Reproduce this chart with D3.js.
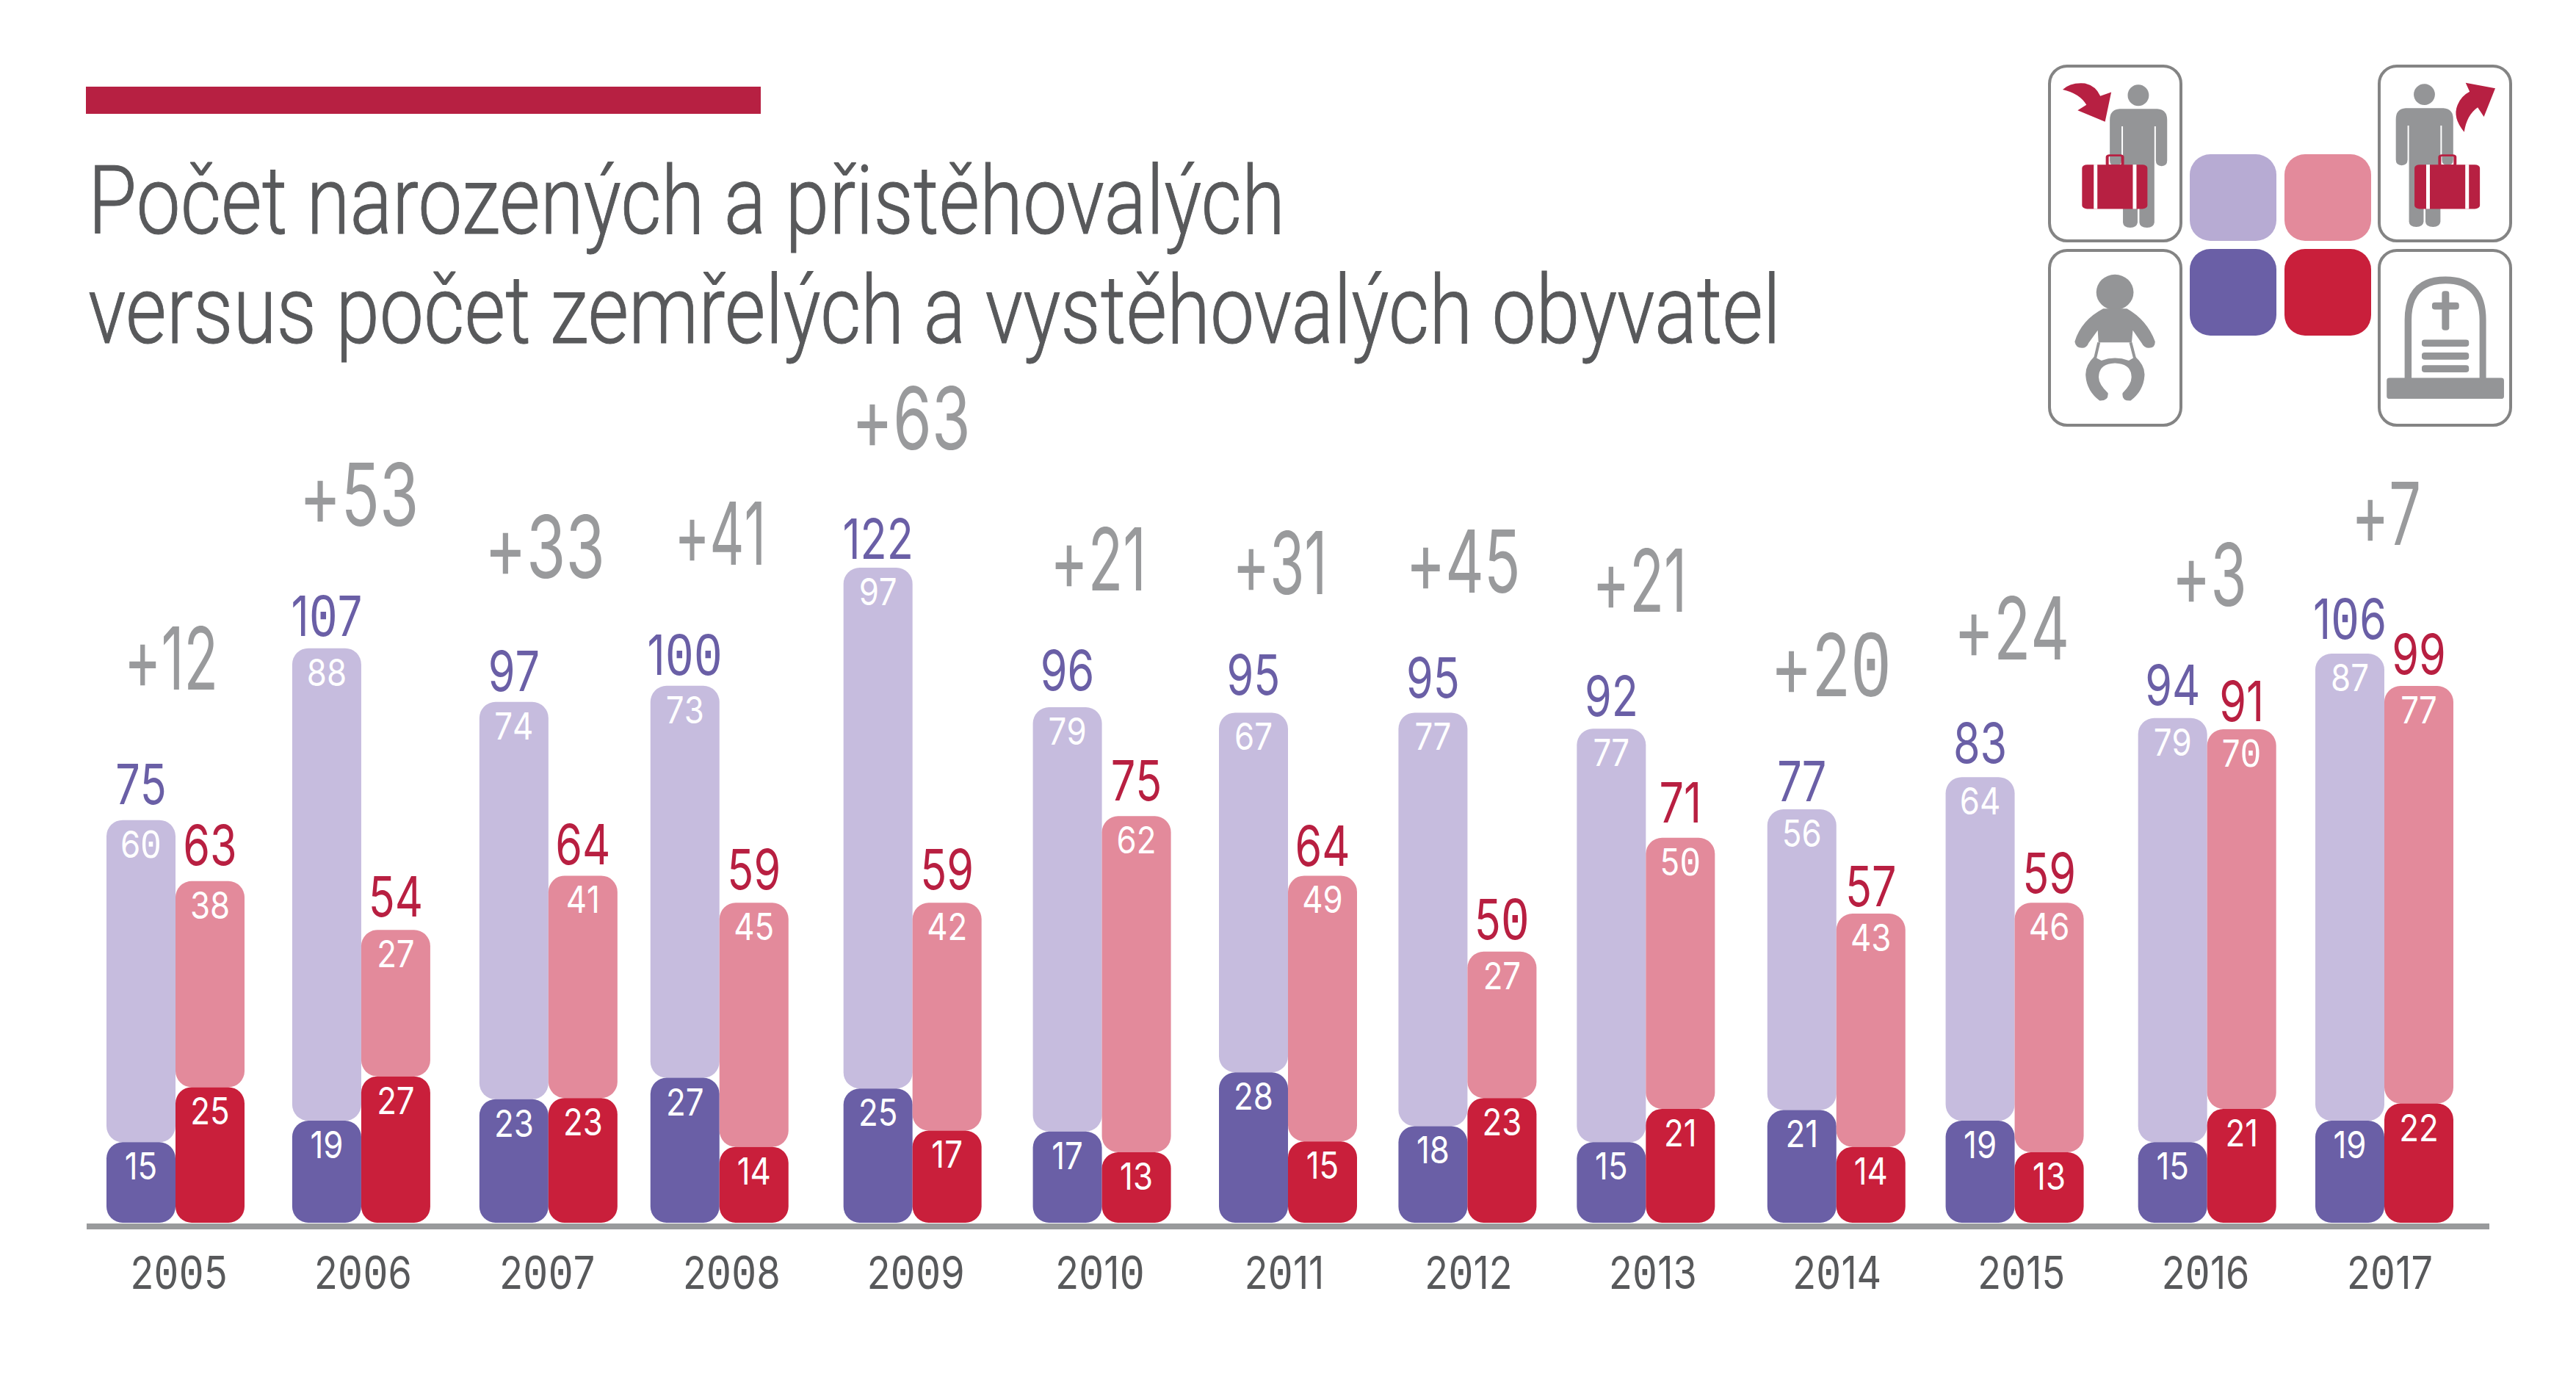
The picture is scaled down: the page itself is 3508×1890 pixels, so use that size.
<!DOCTYPE html>
<html>
<head>
<meta charset="utf-8">
<script src="https://cdn.jsdelivr.net/npm/d3@7"></script>
<style>
html,body{margin:0;padding:0;background:#fff;}
svg{display:block;}
</style>
</head>
<body>
<div id="chart"></div>
<script>
var years = [2005,2006,2007,2008,2009,2010,2011,2012,2013,2014,2015,2016,2017];
var births = [15,19,23,27,25,17,28,18,15,21,19,15,19];
var immigrants = [60,88,74,73,97,79,67,77,77,56,64,79,87];
var deaths = [25,27,23,14,17,13,15,23,21,14,13,21,22];
var emigrants = [38,27,41,45,42,62,49,27,50,43,46,70,77];
var growth = [12,53,33,41,63,21,31,45,21,20,24,3,7];
var title = ['Počet narozených a přistěhovalých','versus počet zemřelých a vystěhovalých obyvatel'];

var width = 3508, height = 1890, baseY = 1665, barW = 94;

// hand placement in the original: pairs sit a little off the year labels,
// the figures above the bars float at uneven gaps
var nudge = [-4,-2,2,-16,-4,3,5.5,-1,-9,-0.5,-8.6,2.6,-7];
var growthDx = [-6,-3,-5,1,-2,-5,-11,-6,-8.5,-7,-4,3,2.5];
var growthLift = [178,167,169,164.5,161,159,161.5,163,159.5,154,160,153,148];
var growthW = [128,163,163,123,162,128,128,156,126,162,153,101,93];
var blueGap = [22,17,15,15,12,23,24,20,17,11,19,18,20];
var redGap = [22,18,15,18,18,21,13,17,21,10,13,11,16];

var svg = d3.select('#chart').append('svg')
  .attr('width', width).attr('height', height);

var x = d3.scalePoint().domain(years).range([243,3254]);
var yBlue = d3.scaleLinear().domain([0,122]).range([baseY,baseY-892]);
var yRed = d3.scaleLinear().domain([0,99]).range([baseY,baseY-731]);

var rows = years.map(function(yr,i){
  return {yr:yr, i:i, cx:x(yr)+nudge[i], b:births[i], im:immigrants[i], d:deaths[i], em:emigrants[i], g:growth[i]};
});

// Inter for the proportional digits, zeros from Liberation Mono for the dotted zero
function digits(t, s, size){
  t.attr('font-family','Inter').attr('font-size',size).attr('font-weight',400);
  t.selectAll('tspan').data(s.split('')).enter().append('tspan')
    .attr('font-family',function(c){ return c==='0' ? '"Liberation Mono"' : null; })
    .attr('font-size',function(c){ return c==='0' ? size*1.1 : null; })
    .text(function(c){ return c; });
}

function label(g, txt, px, py, size, sx, fill){
  var t = g.append('text')
    .attr('transform','translate('+px+','+py+') scale('+sx+',1)')
    .attr('text-anchor','middle').attr('fill',fill);
  digits(t,String(txt),size);
  return t;
}

function bar(g, px, yy, lo, hi, fill){
  g.append('rect').attr('x',px).attr('width',barW)
    .attr('y',yy(hi)).attr('height',yy(lo)-yy(hi))
    .attr('rx',22).attr('ry',22).attr('fill',fill);
}

// top rule and title
svg.append('rect').attr('x',117).attr('y',118).attr('width',919).attr('height',37).attr('fill','#b72042');
svg.selectAll('text.title').data(title).enter().append('text')
  .attr('class','title')
  .attr('x',120).attr('y',function(d,i){ return i ? 467 : 318; })
  .attr('font-family','Roboto').attr('font-weight',300).attr('font-size',130)
  .attr('textLength',function(d,i){ return i ? 2305 : 1630; })
  .attr('lengthAdjust','spacingAndGlyphs')
  .attr('stroke','#58595b').attr('stroke-width',1)
  .attr('fill','#58595b').text(function(d){ return d; });

// bars
var groups = svg.selectAll('g.year').data(rows).enter().append('g').attr('class','year');
groups.each(function(d){
  var g = d3.select(this);
  var l = d.cx-barW, r = d.cx;
  var lc = l+barW/2, rc = r+barW/2;
  bar(g,l,yBlue,d.b,d.b+d.im,'#c6bcde');
  bar(g,l,yBlue,0,d.b,'#6a5fa6');
  bar(g,r,yRed,d.d,d.d+d.em,'#e38a9b');
  bar(g,r,yRed,0,d.d,'#c91f3b');
  label(g,d.b,lc,yBlue(d.b)+51,51,.86,'#fff');
  label(g,d.d,rc,yRed(d.d)+51,51,.86,'#fff');
  label(g,d.im,lc,yBlue(d.b+d.im)+51,51,.86,'#fff');
  label(g,d.em,rc,yRed(d.d+d.em)+51,51,.86,'#fff');
  label(g,d.b+d.im,lc,yBlue(d.b+d.im)-blueGap[d.i],76,.78,'#6a5fa6');
  label(g,d.d+d.em,rc,yRed(d.d+d.em)-redGap[d.i],76,.78,'#b81f41');

  // growth figure, scaled to the measured width of the original
  var px = d.cx+growthDx[d.i], py = yBlue(d.b+d.im)-growthLift[d.i];
  var t = g.append('text').attr('text-anchor','middle').attr('fill','#999a9c');
  digits(t,'+'+d.g,118);
  var len = t.node().getComputedTextLength();
  t.attr('transform','translate('+px+','+py+') scale('+(growthW[d.i]/len)+',1)');
});

// axis
svg.append('rect').attr('x',118).attr('y',1666).attr('width',3272).attr('height',8).attr('fill','#999a9c');
var axis = d3.axisBottom(x).tickSize(0).tickPadding(0).tickFormat(d3.format('d'));
var ax = svg.append('g').attr('transform','translate(0,1755)').call(axis);
ax.select('.domain').remove();
ax.selectAll('.tick text').each(function(){
  var t = d3.select(this), s = t.text();
  t.text(null).attr('dy',0).attr('y',0)
    .attr('transform','scale(.84,1)')
    .attr('fill','#58595b');
  digits(t,s,62);
});

// legend
var swatches = [
  {x:2982,y:210,c:'#b7abd3'},{x:3111,y:210,c:'#e38a9b'},
  {x:2982,y:339,c:'#6a5fa6'},{x:3111,y:339,c:'#c91f3b'}
];
svg.selectAll('rect.sw').data(swatches).enter().append('rect').attr('class','sw')
  .attr('x',function(d){return d.x;}).attr('y',function(d){return d.y;})
  .attr('width',118).attr('height',118).attr('rx',28).attr('ry',28)
  .attr('fill',function(d){return d.c;});
var boxes = [[2791,90],[3240,90],[2791,341],[3240,341]];
svg.selectAll('rect.box').data(boxes).enter().append('rect').attr('class','box')
  .attr('x',function(d){return d[0];}).attr('y',function(d){return d[1];})
  .attr('width',179).attr('height',238).attr('rx',24).attr('ry',24)
  .attr('fill','#fff').attr('stroke','#848484').attr('stroke-width',4);

var ic = svg.append('g').attr('transform','translate(2700,60) scale('+(1/2.01)+','+(1/2.9)+')');
var grey = '#949597', red = '#b72042';
var person = 'M375 256H478Q505 258 505 300V460Q505 482 490 482Q474 482 474 460V325H470V705Q468 725 450 725Q430 725 429 705V590H424V705Q422 725 404 725Q385 725 384 705V325H380V460Q380 482 364 482Q348 482 348 460V300Q348 258 375 256Z';

function man(dx,dy){
  var g = ic.append('g').attr('transform','translate('+dx+','+dy+')').attr('fill',grey);
  g.append('ellipse').attr('cx',426).attr('cy',202).attr('rx',29).attr('ry',42);
  g.append('path').attr('d',person);
}
function suitcase(dx){
  var g = ic.append('g').attr('transform','translate('+dx+',0)');
  g.append('rect').attr('x',341).attr('y',440).attr('width',42).attr('height',40).attr('rx',6).attr('ry',6)
    .attr('fill','none').attr('stroke',red).attr('stroke-width',8);
  g.append('rect').attr('x',272).attr('y',476).attr('width',179).attr('height',175).attr('rx',14).attr('ry',14).attr('fill',red);
  g.append('rect').attr('x',304).attr('y',476).attr('width',10).attr('height',175).attr('fill','#fff');
  g.append('rect').attr('x',411).attr('y',476).attr('width',10).attr('height',175).attr('fill','#fff');
}
man(0,0); suitcase(0);
man(783,-3); suitcase(910);
ic.append('path').attr('fill',red).attr('d','M219 180Q240 150 280 155Q310 165 322 205L352 190L335 307L260 262L284 240Q265 195 219 180Z');
ic.append('path').attr('fill',red).attr('d','M1322 153L1403 175L1372 287L1355 250Q1325 280 1318 347Q1285 290 1300 240Q1310 205 1333 188Z');

// baby
ic.append('ellipse').attr('cx',362).attr('cy',980).attr('rx',51).attr('ry',70).attr('fill',grey);
ic.append('path').attr('fill',grey).attr('d','M330 1045Q270 1090 252 1175Q255 1200 272 1200Q285 1200 290 1180L315 1130L317 1178H408L411 1130L435 1180Q442 1200 455 1200Q472 1200 472 1175Q450 1090 395 1045Z');
ic.append('path').attr('fill','none').attr('stroke',grey).attr('stroke-width',8).attr('d','M318 1178L308 1240M405 1178L416 1240');
ic.append('path').attr('fill',grey).attr('d','M305 1235Q280 1270 282 1310Q285 1370 320 1408Q345 1410 343 1378Q315 1340 318 1310Q320 1262 362 1260Q405 1262 407 1310Q410 1340 383 1378Q380 1410 405 1408Q440 1370 443 1310Q445 1270 418 1235L400 1250Q362 1230 325 1250Z');

// gravestone
ic.append('path').attr('fill',grey).attr('d','M1155 1320V1090Q1155 918 1267 918Q1378 918 1378 1090V1320H1360V1090Q1360 946 1267 946Q1174 946 1174 1090V1320Z');
[[1257,975,20,155],[1230,1020,74,28],[1202,1167,129,28],[1202,1218,129,28],[1202,1268,129,28],[1106,1318,321,83]].forEach(function(r){
  ic.append('rect').attr('x',r[0]).attr('y',r[1]).attr('width',r[2]).attr('height',r[3]).attr('rx',8).attr('ry',10).attr('fill',grey);
});
</script>
</body>
</html>
